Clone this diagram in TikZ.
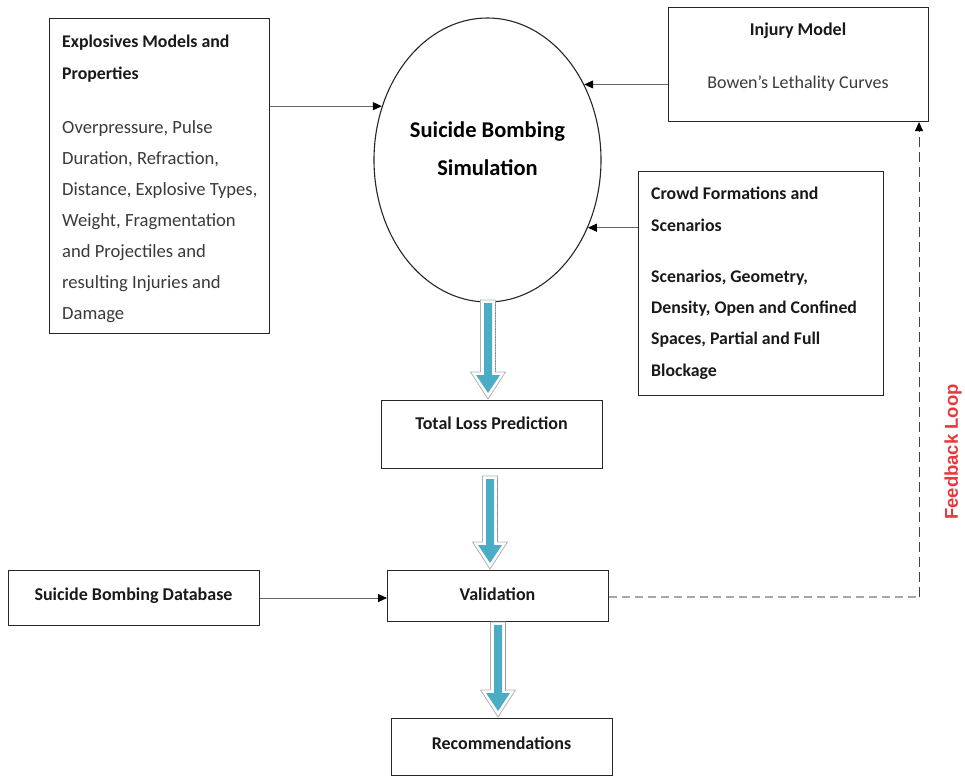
\documentclass[tikz,border=0pt]{standalone}
\usepackage{fontspec}
\setmainfont{Carlito}
\newfontfamily\arialfam{Liberation Sans}
\usetikzlibrary{arrows.meta,calc,shapes.geometric}
\definecolor{tealarr}{HTML}{4BACC6}
\definecolor{fbred}{HTML}{E8383D}
\definecolor{bodygray}{HTML}{3A3A3A}
\newcommand\blockarr[2]{%
  \filldraw[fill=white,draw=black!30,line width=0.8pt]
    ($(#1)+(-7.5,0)$) -- ($(#1)+(7.5,0)$) -- ($(#1|-#2)+(7.5,-28)$) -- ($(#1|-#2)+(17.5,-28)$)
    -- ($(#1|-#2)+(0,-1)$) -- ($(#1|-#2)+(-17.5,-28)$) -- ($(#1|-#2)+(-7.5,-28)$) -- cycle;
  \draw[black!45,densely dotted,line width=0.6pt] ($(#1)+(7.5,2)$) -- ($(#1|-#2)+(7.5,-28)$);
  \fill[tealarr]
    ($(#1)+(-4,3)$) -- ($(#1)+(4,3)$) -- ($(#1|-#2)+(4,-25)$) -- ($(#1|-#2)+(12,-25)$)
    -- ($(#1|-#2)+(0,-7)$) -- ($(#1|-#2)+(-12,-25)$) -- ($(#1|-#2)+(-4,-25)$) -- cycle;
}
\begin{document}
\begin{tikzpicture}[x=1pt,y=-1pt,
  box/.style={draw=black!85, line width=1.1pt, anchor=north west, inner sep=0pt},
  ttl/.style={font=\bfseries\fontsize{17.8}{31.3}\selectfont, text=black!90, align=left, anchor=base west, inner sep=0pt},
  bod/.style={font=\fontsize{18.6}{31}\selectfont, text=bodygray, align=left, anchor=base west, inner sep=0pt},
  lbl/.style={font=\bfseries\fontsize{18}{20}\selectfont, text=black!90, anchor=base, inner sep=0pt},
  conn/.style={draw=black!60, line width=0.9pt, -{Triangle[length=9pt,width=8pt,color=black]}},
]
\useasboundingbox (0,0) rectangle (965,776);

% boxes
\node[box, minimum width=220pt, minimum height=315pt] (expl) at (49,18) {};
\node[box, minimum width=260pt, minimum height=114pt] (inj) at (668,7) {};
\node[box, minimum width=245pt, minimum height=224pt] (crowd) at (638,171) {};
\node[box, minimum width=221pt, minimum height=68pt] (loss) at (381,400) {};
\node[box, minimum width=221pt, minimum height=51pt] (val) at (387,570) {};
\node[box, minimum width=251pt, minimum height=55pt] (db) at (8,570) {};
\node[box, minimum width=221pt, minimum height=57pt] (rec) at (391,718) {};
\node[draw=black!85, line width=1.1pt, ellipse, minimum width=227pt, minimum height=284pt, inner sep=0pt] (sim) at (487.5,160) {};

% texts (base anchor = baseline of the last line)
\node[ttl] (explt) at (62,79) {Explosives Models and\\Properties};
\node[bod] (explb) at (62,319) {Overpressure, Pulse\\Duration, Refraction,\\Distance, Explosive Types,\\Weight, Fragmentation\\and Projectiles and\\resulting Injuries and\\Damage};
\node[lbl] (injt) at (798,36) {Injury Model};
\node[font=\fontsize{18}{20}\selectfont, text=bodygray, anchor=base, inner sep=0pt] (injb) at (798,88) {Bowen’s Lethality Curves};
\node[ttl] (crowdt) at (651,231) {Crowd Formations and\\Scenarios};
\node[ttl] (crowdb) at (651,376) {Scenarios, Geometry,\\Density, Open and Confined\\Spaces, Partial and Full\\Blockage};
\node[font=\bfseries\fontsize{22.5}{38}\selectfont, align=center, anchor=base, inner sep=0pt] (simt) at (487.5,175) {Suicide Bombing\\Simulation};
\node[lbl] (losst) at (491.5,429) {Total Loss Prediction};
\node[lbl] (valt) at (497.5,600) {Validation};
\node[lbl] (dbt) at (133.5,600) {Suicide Bombing Database};
\node[lbl] (rect) at (501.5,749) {Recommendations};
\node[rotate=90, font=\arialfam\bfseries\fontsize{18.5}{20}\selectfont, text=fbred, inner sep=0pt] (fbl) at (953,452) {Feedback Loop};

% connectors
\draw[conn] (expl.east |- sim.153.8) -- (sim.153.8);
\draw[conn] (inj.west |- sim.38.4) -- (sim.38.4);
\draw[conn] (crowd.west |- sim.-34.3) -- (sim.-34.3);
\draw[conn] (db.east |- 0,598) -- (val.west |- 0,598);

\coordinate (fbc) at (919,597);
\draw[black!35, line width=1.8pt, dash pattern=on 8pt off 5pt] (val.east |- fbc) -- (fbc);
\draw[black!75, line width=1pt, dash pattern=on 10pt off 5pt, -{Triangle[length=9pt,width=8pt,color=black]}] (fbc) -- (fbc |- inj.south);

% block arrows
\coordinate (a1t) at (488,300);
\coordinate (a1b) at (488,400);
\coordinate (a2t) at (490,476);
\coordinate (a2b) at (490,570);
\coordinate (a3t) at (498,622);
\coordinate (a3b) at (498,718);
\blockarr{a1t}{a1b}
\blockarr{a2t}{a2b}
\blockarr{a3t}{a3b}
\end{tikzpicture}
\end{document}
